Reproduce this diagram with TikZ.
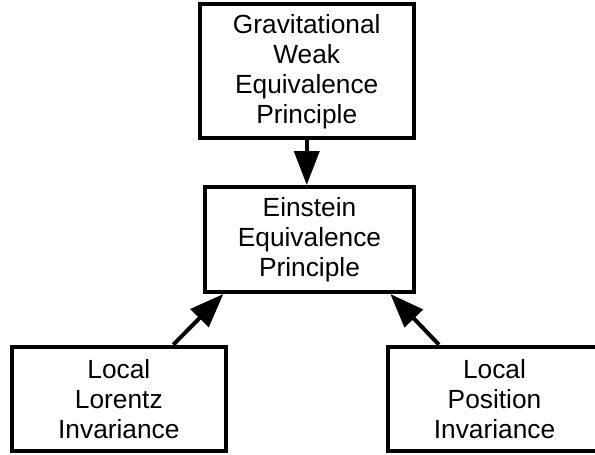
\documentclass[tikz,border=0pt]{standalone}
\usepackage{fontspec}
\setmainfont{Liberation Sans}
\usetikzlibrary{arrows.meta,calc}

\begin{document}
\begin{tikzpicture}[x=1pt,y=-1pt,
    box/.style={draw=black, line width=4pt, fill=white, inner sep=0pt,
      align=center, font=\fontsize{26.3}{30}\selectfont},
    link/.style={line width=4pt, -{Triangle[length=34pt,width=25pt]}}]
  \useasboundingbox (0,0) rectangle (595,455);
  \clip (0,0) rectangle (595,455);
  \fill[white] (0,0) rectangle (595,455);

  % the four principles
  \node[box, minimum width=214.5pt, minimum height=134pt] (gwep) at (306.75,71.3)
    {Gravitational\\Weak\\Equivalence\\Principle};
  \node[box, minimum width=208.7pt, minimum height=105pt] (eep) at (309.5,239.5)
    {Einstein\\Equivalence\\Principle};
  \node[box, minimum width=213.7pt, minimum height=104.3pt] (lli) at (118.85,398.85)
    {Local\\Lorentz\\Invariance};
  \node[box, minimum width=213.7pt, minimum height=104.3pt] (lpi) at (494.5,398.85)
    {Local\\Position\\Invariance};

  % implications
  \draw[link] (gwep.south) -- (gwep.south |- eep.north);
  \draw[link] ($(lli.north west)!0.75!(lli.north east)$)
    -- ($(eep.south west)!0.095!(eep.south east)$);
  \draw[link] ($(lpi.north west)!0.245!(lpi.north east)$)
    -- ($(eep.south west)!0.88!(eep.south east)$);
\end{tikzpicture}
\end{document}
